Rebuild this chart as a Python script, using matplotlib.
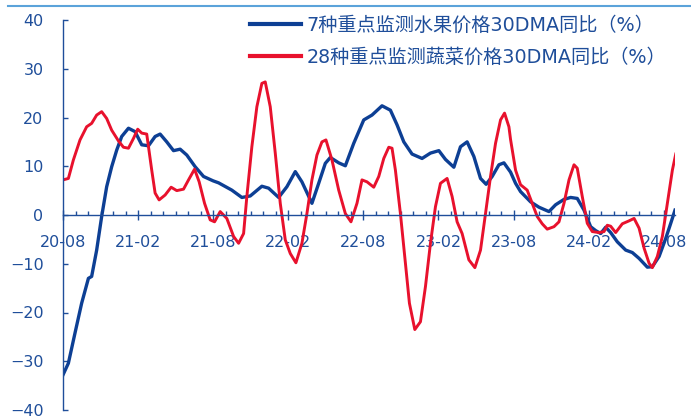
import numpy as np
import matplotlib
matplotlib.use("Agg")
import matplotlib.pyplot as plt
from matplotlib.ticker import MultipleLocator
from matplotlib.lines import Line2D

plt.rcParams["font.family"] = ["DejaVu Sans", "Noto Sans CJK SC"]

# months since 2020-08
t_fruit = [0.0, 0.43, 0.96, 1.49, 2.03, 2.29, 2.69, 3.09, 3.49, 3.89, 4.29, 4.69,
           5.23, 5.76, 6.29, 6.83, 7.36, 7.76, 8.29, 8.83, 9.36, 9.89, 10.56, 11.23,
           12.0, 12.43, 13.49, 14.29, 14.96, 15.89, 16.43, 17.23, 17.89, 18.56, 19.09,
           19.89, 20.43, 20.96, 21.36, 22.03, 22.56, 23.23, 24.03, 24.69, 25.49, 26.16,
           26.69, 27.23, 27.89, 28.69, 29.36, 30.03, 30.56, 31.23, 31.76, 32.29, 32.83,
           33.36, 33.81, 34.29, 34.83, 35.23, 35.76, 36.16, 36.56, 37.36, 38.03, 38.83,
           39.36, 40.03, 40.56, 41.09, 41.63, 42.16, 42.56, 42.96, 43.36, 43.76, 44.29,
           44.96, 45.49, 46.03, 46.69, 47.09, 47.63, 48.16, 48.56, 48.9]
fruit_yoy = [-32.8, -30.4, -24.2, -18.1, -13.0, -12.6, -7.2, -0.3, 5.8, 9.9, 13.3, 16.1,
             17.8, 17.1, 14.4, 14.2, 16.1, 16.6, 15.0, 13.2, 13.5, 12.3, 9.9, 7.9,
             7.0, 6.6, 5.1, 3.6, 3.9, 5.9, 5.5, 3.6, 5.8, 8.9, 6.8,
             2.4, 6.5, 10.6, 11.8, 10.7, 10.1, 14.7, 19.5, 20.5, 22.4, 21.5,
             18.5, 15.0, 12.5, 11.6, 12.7, 13.2, 11.4, 9.8, 14.0, 15.0, 12.0,
             7.5, 6.3, 7.9, 10.3, 10.7, 8.8, 6.5, 4.8, 2.7, 1.6, 0.7,
             2.1, 3.2, 3.6, 3.4, 1.0, -2.4, -3.2, -3.8, -2.5, -3.6, -5.5,
             -7.2, -7.7, -8.9, -10.7, -10.6, -8.5, -4.8, -1.7, 1.0]

t_veg = [0.0, 0.43, 0.83, 1.36, 1.89, 2.29, 2.69, 3.09, 3.49, 3.89, 4.43, 4.83,
         5.23, 5.63, 5.97, 6.29, 6.69, 7.09, 7.36, 7.68, 8.16, 8.64, 9.09, 9.63,
         10.03, 10.51, 10.88, 11.31, 11.76, 12.11, 12.56, 13.09, 13.63, 14.03, 14.43,
         14.69, 15.09, 15.49, 15.89, 16.16, 16.56, 16.96, 17.36, 17.76, 18.16, 18.61,
         19.09, 19.49, 19.89, 20.29, 20.69, 21.01, 21.49, 22.03, 22.56, 23.01, 23.49,
         23.89, 24.29, 24.83, 25.23, 25.63, 26.03, 26.29, 26.56, 26.96, 27.36, 27.68,
         28.11, 28.56, 28.96, 29.36, 29.76, 30.16, 30.69, 31.09, 31.49, 31.89, 32.43,
         32.91, 33.36, 33.76, 34.16, 34.56, 34.96, 35.28, 35.63, 35.76, 36.16, 36.56,
         37.09, 37.49, 37.89, 38.29, 38.69, 39.23, 39.63, 40.03, 40.43, 40.83, 41.09,
         41.49, 41.89, 42.29, 42.83, 43.23, 43.49, 43.76, 44.16, 44.69, 45.23, 45.63,
         46.03, 46.43, 46.83, 47.09, 47.49, 47.89, 48.29, 48.69, 48.96]
veg_yoy = [7.2, 7.5, 11.3, 15.4, 18.1, 18.8, 20.5, 21.2, 19.8, 17.4, 15.2, 13.9,
           13.7, 15.7, 17.6, 16.8, 16.6, 9.2, 4.5, 3.1, 4.1, 5.7, 5.0, 5.3,
           7.2, 9.4, 6.8, 2.4, -1.0, -1.4, 0.7, -0.7, -4.4, -5.8, -3.8,
           3.8, 14.0, 22.2, 27.0, 27.3, 22.2, 12.7, 2.4, -5.1, -7.9, -9.8,
           -5.8, 0.3, 7.2, 12.3, 15.0, 15.4, 11.3, 5.1, 0.3, -1.4, 2.4,
           7.2, 6.8, 5.7, 7.9, 11.6, 13.9, 13.7, 9.2, 0.3, -9.9, -18.1,
           -23.5, -21.9, -14.7, -5.8, 1.7, 6.5, 7.5, 3.8, -1.4, -3.8, -9.2,
           -10.8, -7.2, 0.3, 7.9, 14.7, 19.5, 20.9, 18.1, 15.5, 9.2, 6.2,
           5.1, 2.4, -0.3, -1.8, -2.9, -2.4, -1.4, 2.4, 7.2, 10.3, 9.6,
           3.8, -1.7, -3.4, -3.6, -3.4, -2.1, -2.3, -3.6, -1.8, -1.2, -0.7,
           -2.7, -6.8, -9.9, -10.8, -8.5, -4.4, 2.4, 9.2, 12.5]

tick_labels = ["20-08", "21-02", "21-08", "22-02", "22-08",
               "23-02", "23-08", "24-02", "24-08"]
series_names = ["7种重点监测水果价格30DMA同比（%）",
                "28种重点监测蔬菜价格30DMA同比（%）"]

axis_color = "#1F4E9A"
blue = "#0D3F94"
red = "#E8112D"

fig = plt.figure(figsize=(6.91, 4.16), dpi=100)
ax = fig.add_axes([63 / 691, 6 / 416, (675 - 63) / 691, 390 / 416])

ax.plot(t_fruit, fruit_yoy, color=blue, lw=2.4, solid_joinstyle="round")
ax.plot(t_veg, veg_yoy, color=red, lw=2.1, solid_joinstyle="round")

ax.set_xlim(0, 48.9)
ax.set_ylim(-40, 40)

for s in ["top", "right"]:
    ax.spines[s].set_visible(False)
ax.spines["bottom"].set_position(("data", 0))
for s in ["bottom", "left"]:
    ax.spines[s].set_color(axis_color)
    ax.spines[s].set_linewidth(1.0)

ax.set_xticks(np.arange(0, 49, 6))
ax.set_xticklabels(tick_labels)
ax.xaxis.set_minor_locator(MultipleLocator(1))
ax.tick_params(axis="x", which="major", direction="inout", length=7, width=1,
               color=axis_color, labelcolor=axis_color, labelsize=11.5, pad=11)
ax.tick_params(axis="x", which="minor", direction="in", length=3, width=1,
               color=axis_color)

ax.set_yticks(np.arange(-40, 41, 10))
ax.tick_params(axis="y", direction="in", length=3.5, width=1,
               color=axis_color, labelcolor=axis_color, labelsize=11.5, pad=14)

handles = [Line2D([], [], color=blue, lw=3), Line2D([], [], color=red, lw=3)]
fig.legend(handles, series_names, loc="upper left",
           bbox_to_anchor=(250 / 691, 1 - 16 / 416), frameon=False,
           fontsize=13.8, labelcolor=axis_color, handlelength=2.65,
           handletextpad=0.3, labelspacing=0.68, borderpad=0, borderaxespad=0)

# light rule along the top edge
fig.add_artist(Line2D([8 / 691, 1], [1 - 6 / 416, 1 - 6 / 416],
                      transform=fig.transFigure, color="#5BA3DA", lw=1.5))

fig.savefig("out.png", dpi=100)
